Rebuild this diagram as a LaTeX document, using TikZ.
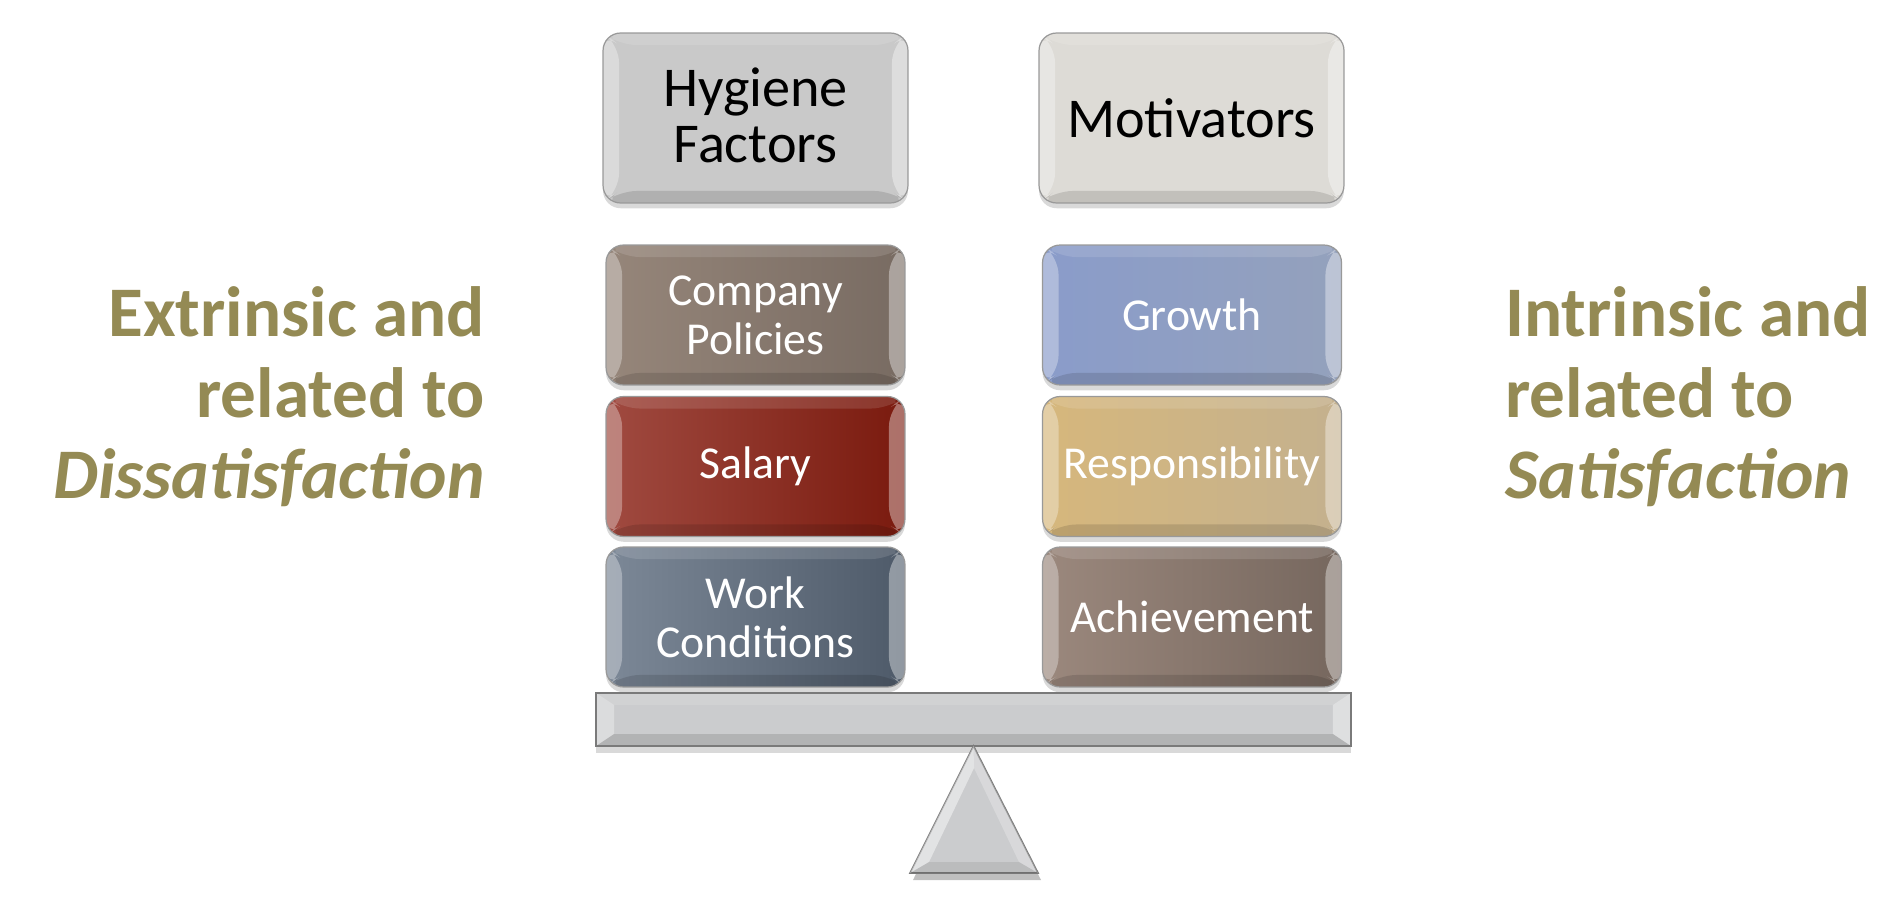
\documentclass[tikz,border=0pt]{standalone}
\usepackage{fontspec}
\setmainfont{Carlito}
\usetikzlibrary{shadows,calc}
\definecolor{olivetext}{HTML}{948A54}
\definecolor{steelgray}{HTML}{CBCCCE}
\definecolor{edgegray}{HTML}{7A7A7A}
\definecolor{hygienefill}{HTML}{C9C9C9}
\definecolor{motivfill}{HTML}{DDDBD6}
\definecolor{policiesL}{HTML}{96867A}
\definecolor{policiesR}{HTML}{786B62}
\definecolor{salaryL}{HTML}{A04A40}
\definecolor{salaryR}{HTML}{7A1A0E}
\definecolor{workL}{HTML}{7C8897}
\definecolor{workR}{HTML}{4E5A69}
\definecolor{growthL}{HTML}{8A9CCA}
\definecolor{growthR}{HTML}{94A1BC}
\definecolor{respL}{HTML}{D6B77C}
\definecolor{respR}{HTML}{C4B18E}
\definecolor{achL}{HTML}{9B887D}
\definecolor{achR}{HTML}{76675E}
\newcommand\lowdepth[1]{\rule[-#1]{0pt}{0pt}}
\tikzset{
  bevel/.style={path picture={
      \fill[white,opacity=.32] (path picture bounding box.north west) -- ($(path picture bounding box.north west)+(#1,12)$)
        -- ($(path picture bounding box.south west)+(#1,-12)$) -- (path picture bounding box.south west) -- cycle;
      \fill[white,opacity=.38] (path picture bounding box.north east) -- ($(path picture bounding box.north east)+(-#1,12)$)
        -- ($(path picture bounding box.south east)+(-#1,-12)$) -- (path picture bounding box.south east) -- cycle;
      \fill[white,opacity=.12] (path picture bounding box.north west) -- (path picture bounding box.north east)
        -- ($(path picture bounding box.north east)+(-#1,12)$) -- ($(path picture bounding box.north west)+(#1,12)$) -- cycle;
      \fill[black,opacity=.12] (path picture bounding box.south west) -- (path picture bounding box.south east)
        -- ($(path picture bounding box.south east)+(-#1,-12)$) -- ($(path picture bounding box.south west)+(#1,-12)$) -- cycle;
    }},
  tile/.style 2 args={rounded corners=10pt, draw=black!40, line width=0.7pt,
    left color=#1, right color=#2, bevel=16,
    minimum width=5.98cm, minimum height=2.8cm, inner sep=0pt, outer sep=0pt,
    align=center, text=white, font=\fontsize{26}{28}\selectfont,
    drop shadow={shadow xshift=0pt, shadow yshift=-3pt, opacity=.3}},
  header/.style={tile={#1}{#1}, minimum width=6.1cm, minimum height=3.4cm,
    text=black, font=\fontsize{32}{31.7}\selectfont},
  side/.style={text=olivetext, inner sep=0pt, font=\fontsize{40.5}{46}\selectfont\bfseries}
}
\begin{document}
\begin{tikzpicture}[x=0.02cm,y=-0.02cm]
  \useasboundingbox (0,0) rectangle (1902,902);
  % the two headings
  \node[header=hygienefill] (hygiene) at (755.5,118) {Hygiene\\Factors\lowdepth{3pt}};
  \node[header=motivfill] (motivators) at (1191.5,118) {Motivators};
  % left pan
  \node[tile={policiesL}{policiesR}] (policies) at (755.5,315) {Company\\Policies};
  \node[tile={salaryL}{salaryR}] (salary) at (755.5,466.5) {Salary};
  \node[tile={workL}{workR}] (conditions) at (755.5,617) {Work\\Conditions};
  % right pan
  \node[tile={growthL}{growthR}] (growth) at (1192,315) {Growth};
  \node[tile={respL}{respR}] (responsibility) at (1192,466.5) {Responsibility};
  \node[tile={achL}{achR}] (achievement) at (1192,617) {Achievement};
  % beam and pivot
  \node[draw=edgegray, line width=0.7pt, fill=steelgray, bevel=18, minimum width=15.1cm, minimum height=1.06cm,
    inner sep=0pt, outer sep=0pt, drop shadow={shadow xshift=0pt, shadow yshift=-4pt, opacity=.3}] (beam) at (973.5,719.5) {};
  \fill[black,opacity=.25] (976,752) -- (1041,880) -- (913,880) -- cycle;
  \draw[edgegray, line width=0.9pt, fill=steelgray] (beam.south) -- (1038,873) -- (910,873) -- cycle;
  \fill[white,opacity=.45] (beam.south) -- (974,768) -- (929,862) -- (910,873) -- cycle;
  \fill[white,opacity=.25] (beam.south) -- (974,768) -- (1019,862) -- (1038,873) -- cycle;
  \fill[black,opacity=.08] (910,873) -- (929,862) -- (1019,862) -- (1038,873) -- cycle;
  % the two captions
  \node[side, anchor=base east] (ext1) at (485,336) {Extrinsic and};
  \node[side, anchor=base east] (ext2) at (485,417) {related to};
  \node[side, anchor=base east] (ext3) at (485,498) {\textit{Dissatisfaction}};
  \node[side, anchor=base west] (int1) at (1505,336) {Intrinsic and};
  \node[side, anchor=base west] (int2) at (1505,417) {related to};
  \node[side, anchor=base west] (int3) at (1505,498) {\textit{Satisfaction}};
\end{tikzpicture}
\end{document}
